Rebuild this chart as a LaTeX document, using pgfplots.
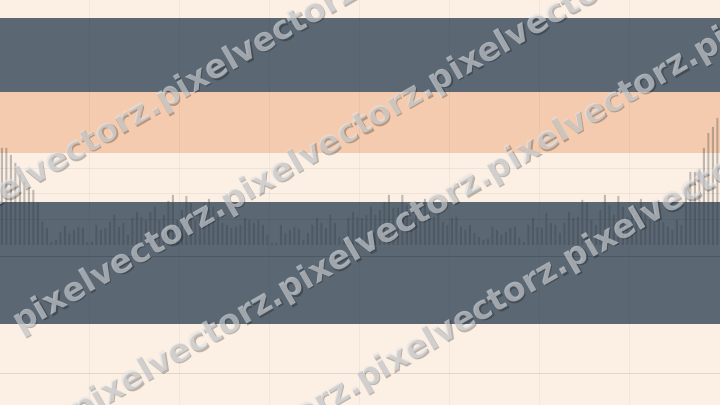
\documentclass[border=0pt]{standalone}
\usepackage{fontspec}
\newfontfamily\wmfont{DejaVu Sans}
\usepackage{pgfplots}
\pgfplotsset{compat=1.18}
\definecolor{cream}{RGB}{252,239,227}
\definecolor{slate}{RGB}{91,104,116}
\definecolor{peach}{RGB}{244,203,174}
\definecolor{barc}{RGB}{50,55,60}
\definecolor{wm}{RGB}{222,226,230}
\begin{document}
\begin{tikzpicture}
\useasboundingbox (0,0) rectangle (360pt,202.5pt);
\begin{axis}[scale only axis, width=360pt, height=202.5pt,
  xmin=-0.4, xmax=159.6, ymin=-160, ymax=245,
  axis lines=none, ticks=none, clip=true]
\fill[cream] (axis cs:-0.4,-160) rectangle (axis cs:159.6,245);
\fill[slate] (axis cs:-0.4,153) rectangle (axis cs:159.6,227);
\fill[peach] (axis cs:-0.4,92) rectangle (axis cs:159.6,153);
\fill[slate] (axis cs:-0.4,-79) rectangle (axis cs:159.6,43);
% grid
\pgfplotsinvokeforeach{19.6,39.6,59.6,79.6,99.6,119.6,139.6}{
  \draw[black, opacity=0.04, line width=0.5pt] (axis cs:#1,-160) -- (axis cs:#1,245);
}
\draw[black, opacity=0.05, line width=0.5pt] (axis cs:-0.4,76) -- (axis cs:159.6,76);
\draw[black, opacity=0.05, line width=0.5pt] (axis cs:-0.4,51) -- (axis cs:159.6,51);
\draw[black, opacity=0.06, line width=0.5pt] (axis cs:-0.4,25) -- (axis cs:159.6,25);
\draw[black, opacity=0.15, line width=0.5pt] (axis cs:-0.4,-12) -- (axis cs:159.6,-12);
\draw[black, opacity=0.1, line width=0.5pt] (axis cs:-0.4,-129) -- (axis cs:159.6,-129);
\addplot[ybar, bar width=1pt, fill=barc, fill opacity=0.3, draw=none] coordinates {
(0,97) (1,97) (2,90) (3,82) (4,70) (5,63) (6,58) (7,55) (8,42) (9,23)
(10,17) (11,3) (12,5) (13,13) (14,19) (15,12) (16,15) (17,18) (18,17) (19,3)
(20,3) (21,20) (22,15) (23,17) (24,23) (25,30) (26,18) (27,22) (28,10) (29,27)
(30,33) (31,28) (32,25) (33,33) (34,38) (35,25) (36,30) (37,44) (38,50) (39,25)
(40,35) (41,49) (42,42) (43,25) (44,32) (45,42) (46,46) (47,38) (48,28) (49,22)
(50,20) (51,17) (52,18) (53,20) (54,27) (55,25) (56,22) (57,25) (58,20) (59,10)
(60,2) (61,2) (62,20) (63,12) (64,15) (65,18) (66,16) (67,5) (68,12) (69,20)
(70,27) (71,22) (72,17) (73,30) (74,22) (75,8) (76,8) (77,27) (78,33) (79,28)
(80,27) (81,30) (82,38) (83,30) (84,35) (85,43) (86,50) (87,37) (88,37) (89,50)
(90,40) (91,25) (92,30) (93,38) (94,46) (95,33) (96,28) (97,35) (98,23) (99,20)
(100,27) (101,28) (102,18) (103,15) (104,20) (105,12) (106,8) (107,5) (108,6) (109,18)
(110,15) (111,10) (112,13) (113,17) (114,18) (115,7) (116,3) (117,20) (118,27) (119,18)
(120,17) (121,32) (122,22) (123,20) (124,12) (125,22) (126,33) (127,27) (128,28) (129,45)
(130,42) (131,25) (132,20) (133,35) (134,50) (135,40) (136,30) (137,49) (138,38) (139,28)
(140,37) (141,30) (142,46) (143,37) (144,25) (145,30) (146,28) (147,23) (148,18) (149,15)
(150,25) (151,20) (152,57) (153,73) (154,73) (155,76) (156,97) (157,112) (158,118) (159,127)
};
\end{axis}
\begin{scope}
\clip (0,0) rectangle (360pt,202.5pt);
\begin{scope}[shift={(0,202.5pt)}, x=0.5pt, y=-0.5pt]
\foreach \yz/\p/\txt in {205/-45/pixelvectorz.pixelvectorz.,
                    345/20/pixelvectorz.pixelvectorz.pixelvectorz.pixelvectorz.,
                    467/-130/pixelvectorz.pixelvectorz.pixelvectorz.pixelvectorz.pixelvectorz.,
                    600/155/pixelvectorz.pixelvectorz.pixelvectorz.} {
  \pgfmathsetmacro{\yy}{\yz-0.577*\p}
  \node[anchor=base west, rotate=30, inner sep=0pt, text=black, text opacity=0.25,
        font=\wmfont\bfseries\fontsize{16.5pt}{16.5pt}\selectfont]
        at (\p+1.4,\yy+1.4) {\txt};
  \node[anchor=base west, rotate=30, inner sep=0pt, text=wm, text opacity=0.6,
        font=\wmfont\bfseries\fontsize{16.5pt}{16.5pt}\selectfont]
        at (\p,\yy) {\txt};
}
\end{scope}
\end{scope}
\end{tikzpicture}
\end{document}
